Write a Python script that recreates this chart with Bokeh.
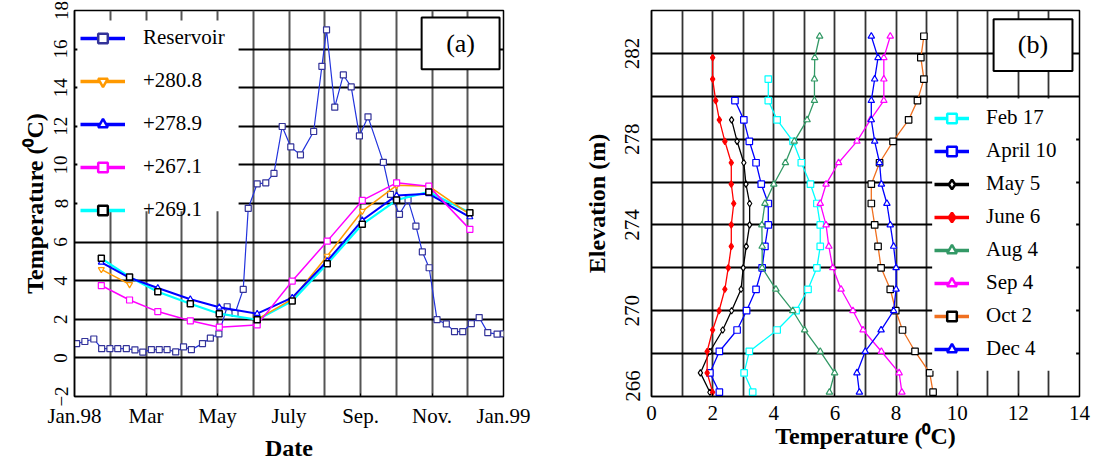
import math
from bokeh.plotting import figure
from bokeh.models import FixedTicker, Legend, LegendItem, BoxAnnotation, Label
from bokeh.layouts import row
from bokeh.embed import file_html
from bokeh.resources import INLINE

nan = float("nan")

# ---------------- Panel (a) data ----------------
month_ticks = [0, 2, 4, 6, 8, 10, 12]
month_labels = ["Jan.98", "Mar", "May", "July", "Sep.", "Nov.", "Jan.99"]

res_month = [0.06, 0.29, 0.54, 0.76, 0.99, 1.21, 1.45, 1.69, 1.91, 2.15, 2.37, 2.59,
             2.83, 3.05, 3.27, 3.58, 3.80, 4.04, 4.27, 4.49, 4.72, 4.86, 5.11, 5.35,
             5.58, 5.81, 6.05, 6.32, 6.69, 6.92, 7.05, 7.28, 7.52, 7.74, 7.97, 8.21,
             8.64, 8.84, 9.09, 9.33, 9.55, 9.73, 9.92, 10.14, 10.40, 10.63, 10.86,
             11.10, 11.32, 11.56, 11.82, 12.0]
res_temp = [0.74, 0.85, 0.98, 0.48, 0.48, 0.48, 0.48, 0.42, 0.30, 0.43, 0.43, 0.43,
            0.31, 0.57, 0.43, 0.74, 1.02, 1.25, 2.65, 2.30, 3.55, 7.75, 9.02, 9.07,
            9.56, 11.99, 10.93, 10.52, 11.73, 15.11, 17.0, 12.99, 14.66, 14.04, 11.5,
            12.49, 10.13, 8.47, 7.44, 8.19, 6.83, 5.49, 4.67, 1.98, 1.76, 1.36, 1.36,
            1.78, 2.09, 1.31, 1.23, 1.25]

probe_month = [0.75, 1.54, 2.33, 3.24, 4.05, 5.11, 6.09, 7.07, 8.05, 9.01, 9.91, 11.06]
t_2808 = [4.59, 3.81, nan, nan, nan, 2.00, 3.05, 5.28, 7.61, 8.94, 8.90, 7.44]
t_2789 = [4.95, 4.15, 3.62, 3.04, 2.62, 2.29, 3.12, 5.02, 7.13, 8.42, 8.50, 7.30]
t_2671 = [3.75, 3.00, 2.40, 1.92, 1.59, 1.71, 3.98, 6.05, 8.16, 9.07, 8.90, 6.66]
t_2691 = [5.16, 4.19, 3.43, 2.81, 2.29, 1.98, 2.95, 4.88, 6.92, 8.18, 8.60, 7.52]

temp_ticks_a = list(range(-2, 19, 2))

# ---------------- Panel (b) data ----------------
elev = [266.2, 267.1, 268.1, 269.1, 270.0, 271.0, 272.0, 273.0, 274.0, 275.0,
        275.9, 276.9, 277.9, 278.9, 279.8, 280.8, 281.8, 282.8]
feb17 = [3.31, 3.03, 3.20, 4.11, 4.73, 5.12, 5.41, 5.52, 5.52, 5.41, 5.20, 4.90,
         4.63, 4.11, 3.82, 3.82]
apr10 = [2.22, 1.91, 2.22, 2.80, 3.11, 3.42, 3.62, 3.71, 3.82, 3.82, 3.59, 3.42,
         3.20, 3.02, 2.73]
may5 = [1.91, 1.60, 1.91, 2.33, 2.62, 2.93, 3.00, 3.10, 3.21, 3.21, 3.09, 3.02,
        2.80, 2.62]
jun6 = [2.00, 1.82, 1.82, 2.00, 2.21, 2.40, 2.51, 2.61, 2.61, 2.69, 2.61, 2.61,
        2.40, 2.22, 2.10, 2.00, 2.00]
aug4 = [5.82, 5.99, 5.52, 5.01, 4.62, 4.07, 3.62, 3.62, 3.61, 3.71, 4.00, 4.38,
        4.67, 5.09, 5.33, 5.33, 5.34, 5.50]
sep4 = [8.19, 8.10, 7.52, 6.92, 6.59, 6.20, 5.93, 5.80, 5.71, 5.52, 5.71, 6.12,
        6.72, 7.16, 7.60, 7.60, 7.60, 7.81]
oct2 = [9.21, 9.10, 8.62, 8.21, 7.99, 7.81, 7.51, 7.41, 7.30, 7.19, 7.19, 7.46,
        7.90, 8.41, 8.70, 8.91, 8.81, 8.91]
dec4 = [6.80, 6.72, 6.99, 7.51, 7.92, 8.00, 8.00, 7.92, 7.81, 7.70, 7.52, 7.46,
        7.30, 7.19, 7.19, 7.30, 7.41, 7.19]

temp_ticks_b = list(range(0, 15, 2))
elev_ticks = [266, 270, 274, 278, 282]

FONT = "Liberation Serif"


def style(p, xtick_size, ytick_size):
    p.background_fill_color = "white"
    p.border_fill_color = "white"
    p.outline_line_color = "black"
    p.outline_line_width = 1.5
    for ax in (p.xaxis[0], p.yaxis[0]):
        ax.axis_line_color = "black"
        ax.axis_line_width = 1.5
        ax.major_tick_in = 3
        ax.major_tick_out = 0
        ax.minor_tick_in = 0
        ax.minor_tick_out = 0
        ax.major_tick_line_color = "black"
        ax.major_label_text_font = FONT
        ax.major_label_text_color = "black"
        ax.major_label_text_line_height = 1.0
        ax.axis_label_text_font = FONT
        ax.axis_label_text_font_style = "bold"
        ax.axis_label_text_color = "black"
        ax.axis_label_text_font_size = "24px"
        ax.axis_label_text_line_height = 1.0
    p.xaxis.major_label_text_font_size = xtick_size
    p.yaxis.major_label_text_font_size = ytick_size
    p.yaxis.major_label_orientation = "parallel"


def leg_items(p, specs, lw, msize):
    items = []
    for label, lcol, marker, mcol, mfill in specs:
        r1 = p.line([nan], [nan], line_color=lcol, line_width=lw)
        r2 = p.scatter([nan], [nan], marker=marker, size=msize, line_color=mcol,
                       fill_color=mfill, line_width=2.5)
        items.append(LegendItem(label=label, renderers=[r1, r2]))
    return items


# ================= Panel (a) =================
pa = figure(width=568, height=463, x_range=(0, 12), y_range=(-2, 18),
            output_backend="svg", toolbar_location=None,
            min_border_left=74, min_border_right=65, min_border_top=10,
            min_border_bottom=67)
style(pa, "21px", "19px")
pa.xaxis.ticker = FixedTicker(ticks=month_ticks)
pa.xaxis.major_label_overrides = dict(zip(month_ticks, month_labels))
pa.yaxis.ticker = FixedTicker(ticks=temp_ticks_a)
pa.xgrid.ticker = FixedTicker(ticks=list(range(13)))
pa.ygrid.ticker = FixedTicker(ticks=temp_ticks_a)
pa.xgrid.grid_line_color = "#555555"
pa.xgrid.grid_line_width = 2
pa.ygrid.grid_line_color = "black"
pa.ygrid.grid_line_width = 2
pa.xaxis.axis_label = "Date"
pa.yaxis.axis_label = "Temperature (\u2070C)"
pa.xaxis.major_label_standoff = 7
pa.xaxis.axis_label_standoff = 4
pa.yaxis.major_label_standoff = 7
pa.yaxis.axis_label_standoff = 4

RES_LINE = "#2233dd"
RES_MARK = "#333399"

pa.line(res_month, res_temp, line_color=RES_LINE, line_width=1.2)
pa.scatter(res_month, res_temp, marker="square", size=6, line_color=RES_MARK,
           fill_color="white", line_width=1.2)

pa.line(probe_month, t_2691, line_color="#00ffff", line_width=2.2)
pa.line(probe_month, t_2808, line_color="#ff9900", line_width=1.5)
pa.scatter(probe_month, t_2808, marker="inverted_triangle", size=6,
           line_color="#ff9900", fill_color="white", line_width=1.2)
pa.line(probe_month, t_2789, line_color="#0000ff", line_width=2)
pa.scatter(probe_month, t_2789, marker="triangle", size=6, line_color="#0000ff",
           fill_color="white", line_width=1.2)
pa.line(probe_month, t_2671, line_color="#ff00ff", line_width=1.5)
pa.scatter(probe_month, t_2671, marker="square", size=6, line_color="#ff00ff",
           fill_color="white", line_width=1.2)
pa.scatter(probe_month, t_2691, marker="square", size=6, line_color="black",
           fill_color="white", line_width=1.5)

# white area behind legend (a)
pa.add_layout(BoxAnnotation(left=0.08, right=4.59, bottom=7.6, top=17.48,
                            fill_color="white", fill_alpha=1.0, line_alpha=0))

items_a = leg_items(pa, [
    ("Reservoir", "#0000ff", "square", RES_MARK, "white"),
    ("+280.8", "#ff9900", "inverted_triangle", "#ff9900", "white"),
    ("+278.9", "#0000ff", "triangle", "#0000ff", "white"),
    ("+267.1", "#ff00ff", "square", "#ff00ff", "white"),
    ("+269.1", "#00ffff", "square", "black", "white"),
], 3.5, 12)
leg_a = Legend(items=items_a, location=(6, 174), orientation="vertical",
               background_fill_alpha=0, border_line_alpha=0, padding=0,
               spacing=18, glyph_width=45, glyph_height=24, label_height=24,
               label_standoff=18, label_text_font=FONT,
               label_text_font_size="21px", label_text_color="black", margin=0)
pa.add_layout(leg_a)

pa.add_layout(BoxAnnotation(left=9.71, right=11.89, bottom=14.95, top=17.64,
                            fill_color="white", fill_alpha=1.0,
                            line_color="black", line_width=2, line_alpha=1.0))
pa.add_layout(Label(x=10.8, y=16.3, text="(a)", text_align="center",
                    text_baseline="middle", text_font=FONT,
                    text_font_size="26px", text_color="black"))

# ================= Panel (b) =================
pb = figure(width=524, height=463, x_range=(0, 14), y_range=(266, 284),
            output_backend="svg", toolbar_location=None,
            min_border_left=83, min_border_right=13, min_border_top=10,
            min_border_bottom=65)
style(pb, "21px", "21px")
pb.xaxis.ticker = FixedTicker(ticks=temp_ticks_b)
pb.yaxis.ticker = FixedTicker(ticks=elev_ticks)
# bottom label sits above its tick, as in the original
pb.yaxis.major_label_overrides = {266: "\u2007\u2007266"}
pb.xgrid.ticker = FixedTicker(ticks=list(range(15)))
pb.ygrid.ticker = FixedTicker(ticks=list(range(266, 285, 2)))
pb.xgrid.grid_line_color = "#333333"
pb.xgrid.grid_line_width = 1.8
pb.ygrid.grid_line_color = "black"
pb.ygrid.grid_line_width = 2
pb.xaxis.axis_label = "Temperature (\u2070C)"
pb.yaxis.axis_label = "Elevation (m)"
pb.xaxis.major_label_standoff = 9
pb.xaxis.axis_label_standoff = 0
pb.yaxis.major_label_standoff = 7
pb.yaxis.axis_label_standoff = 8

profiles = [
    ("Feb 17", feb17, "#00ffff", "square", "#00ffff", "white"),
    ("April 10", apr10, "#0000ff", "square", "#0000ff", "white"),
    ("May 5", may5, "black", "diamond", "black", "white"),
    ("June 6", jun6, "#ff0000", "diamond", "#ff0000", "#ff0000"),
    ("Aug 4", aug4, "#339966", "triangle", "#339966", "white"),
    ("Sep 4", sep4, "#ff00ff", "triangle", "#ff00ff", "white"),
    ("Oct 2", oct2, "#f07020", "square", "black", "white"),
    ("Dec 4", dec4, "#0000ff", "triangle", "#0000ff", "white"),
]
for label, temps, lcol, marker, mcol, mfill in profiles:
    ys = elev[:len(temps)]
    pb.line(temps, ys, line_color=lcol, line_width=1.3)
    pb.scatter(temps, ys, marker=marker, size=6.5, line_color=mcol,
               fill_color=mfill, line_width=1.2)

pb.add_layout(BoxAnnotation(left=9.18, right=13.89, bottom=267.2, top=279.9,
                            fill_color="white", fill_alpha=1.0, line_alpha=0))

items_b = leg_items(pb, [(s[0], s[2], s[3], s[4], s[5]) for s in profiles], 3.5, 12)
leg_b = Legend(items=items_b, location=(283, 35), orientation="vertical",
               background_fill_alpha=0, border_line_alpha=0, padding=0,
               spacing=8, glyph_width=35, glyph_height=24, label_height=24,
               label_standoff=17, label_text_font=FONT,
               label_text_font_size="21px", label_text_color="black", margin=0)
pb.add_layout(leg_b)

pb.add_layout(BoxAnnotation(left=11.19, right=13.77, bottom=281.18, top=283.59,
                            fill_color="white", fill_alpha=1.0,
                            line_color="black", line_width=2, line_alpha=1.0))
pb.add_layout(Label(x=12.48, y=282.4, text="(b)", text_align="center",
                    text_baseline="middle", text_font=FONT,
                    text_font_size="26px", text_color="black"))

layout = row(pa, pb)
open("out.html", "w").write(file_html(layout, INLINE))
